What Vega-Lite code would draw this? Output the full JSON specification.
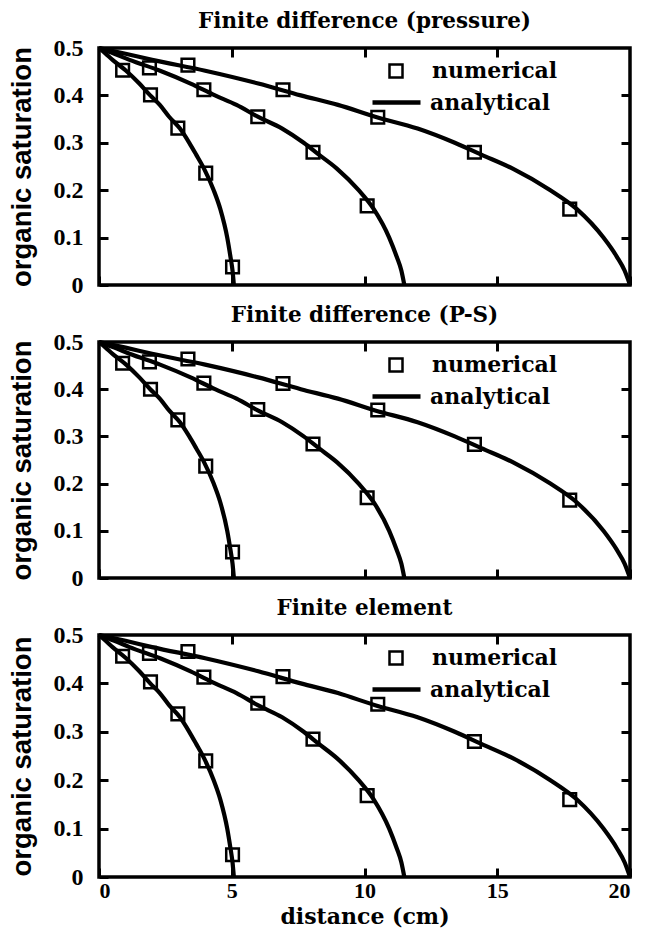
{
  "$schema": "https://vega.github.io/schema/vega-lite/v6.json",
  "background": "white",
  "padding": {"left": 6, "top": 8, "right": 2, "bottom": 0},
  "datasets": {
    "analytical": [
      {"curve": "c1", "distance": 0, "saturation": 0.5},
      {"curve": "c1", "distance": 0.25, "saturation": 0.488},
      {"curve": "c1", "distance": 0.51, "saturation": 0.475},
      {"curve": "c1", "distance": 1.02, "saturation": 0.452},
      {"curve": "c1", "distance": 1.52, "saturation": 0.425},
      {"curve": "c1", "distance": 1.93, "saturation": 0.4},
      {"curve": "c1", "distance": 2.29, "saturation": 0.38},
      {"curve": "c1", "distance": 2.64, "saturation": 0.355},
      {"curve": "c1", "distance": 3.05, "saturation": 0.33},
      {"curve": "c1", "distance": 3.4, "saturation": 0.3},
      {"curve": "c1", "distance": 3.66, "saturation": 0.275},
      {"curve": "c1", "distance": 3.96, "saturation": 0.245},
      {"curve": "c1", "distance": 4.32, "saturation": 0.2},
      {"curve": "c1", "distance": 4.57, "saturation": 0.16},
      {"curve": "c1", "distance": 4.83, "saturation": 0.1},
      {"curve": "c1", "distance": 4.95, "saturation": 0.06},
      {"curve": "c1", "distance": 5.03, "saturation": 0.03},
      {"curve": "c1", "distance": 5.08, "saturation": 0},
      {"curve": "c2", "distance": 0, "saturation": 0.5},
      {"curve": "c2", "distance": 0.58, "saturation": 0.488},
      {"curve": "c2", "distance": 1.15, "saturation": 0.475},
      {"curve": "c2", "distance": 2.3, "saturation": 0.452},
      {"curve": "c2", "distance": 3.45, "saturation": 0.425},
      {"curve": "c2", "distance": 4.37, "saturation": 0.4},
      {"curve": "c2", "distance": 5.18, "saturation": 0.38},
      {"curve": "c2", "distance": 5.98, "saturation": 0.355},
      {"curve": "c2", "distance": 6.9, "saturation": 0.33},
      {"curve": "c2", "distance": 7.71, "saturation": 0.3},
      {"curve": "c2", "distance": 8.28, "saturation": 0.275},
      {"curve": "c2", "distance": 8.97, "saturation": 0.245},
      {"curve": "c2", "distance": 9.78, "saturation": 0.2},
      {"curve": "c2", "distance": 10.35, "saturation": 0.16},
      {"curve": "c2", "distance": 10.93, "saturation": 0.1},
      {"curve": "c2", "distance": 11.21, "saturation": 0.06},
      {"curve": "c2", "distance": 11.39, "saturation": 0.03},
      {"curve": "c2", "distance": 11.5, "saturation": 0},
      {"curve": "c3", "distance": 0, "saturation": 0.5},
      {"curve": "c3", "distance": 1, "saturation": 0.488},
      {"curve": "c3", "distance": 2, "saturation": 0.475},
      {"curve": "c3", "distance": 4, "saturation": 0.452},
      {"curve": "c3", "distance": 6, "saturation": 0.425},
      {"curve": "c3", "distance": 7.6, "saturation": 0.4},
      {"curve": "c3", "distance": 9, "saturation": 0.38},
      {"curve": "c3", "distance": 10.4, "saturation": 0.355},
      {"curve": "c3", "distance": 12, "saturation": 0.33},
      {"curve": "c3", "distance": 13.4, "saturation": 0.3},
      {"curve": "c3", "distance": 14.4, "saturation": 0.275},
      {"curve": "c3", "distance": 15.6, "saturation": 0.245},
      {"curve": "c3", "distance": 17, "saturation": 0.2},
      {"curve": "c3", "distance": 18, "saturation": 0.16},
      {"curve": "c3", "distance": 19, "saturation": 0.1},
      {"curve": "c3", "distance": 19.5, "saturation": 0.06},
      {"curve": "c3", "distance": 19.8, "saturation": 0.03},
      {"curve": "c3", "distance": 20, "saturation": 0}
    ],
    "numerical": [
      {"panel": "p1", "curve": "c1", "distance": 0.89, "saturation": 0.453},
      {"panel": "p1", "curve": "c1", "distance": 1.94, "saturation": 0.401},
      {"panel": "p1", "curve": "c1", "distance": 2.97, "saturation": 0.331},
      {"panel": "p1", "curve": "c1", "distance": 4.02, "saturation": 0.236},
      {"panel": "p1", "curve": "c1", "distance": 5.03, "saturation": 0.038},
      {"panel": "p1", "curve": "c2", "distance": 1.9, "saturation": 0.458},
      {"panel": "p1", "curve": "c2", "distance": 3.95, "saturation": 0.412},
      {"panel": "p1", "curve": "c2", "distance": 5.98, "saturation": 0.355},
      {"panel": "p1", "curve": "c2", "distance": 8.06, "saturation": 0.28},
      {"panel": "p1", "curve": "c2", "distance": 10.1, "saturation": 0.167},
      {"panel": "p1", "curve": "c3", "distance": 3.35, "saturation": 0.464},
      {"panel": "p1", "curve": "c3", "distance": 6.93, "saturation": 0.412},
      {"panel": "p1", "curve": "c3", "distance": 10.5, "saturation": 0.354},
      {"panel": "p1", "curve": "c3", "distance": 14.14, "saturation": 0.28},
      {"panel": "p1", "curve": "c3", "distance": 17.73, "saturation": 0.16},
      {"panel": "p2", "curve": "c1", "distance": 0.89, "saturation": 0.455},
      {"panel": "p2", "curve": "c1", "distance": 1.94, "saturation": 0.4},
      {"panel": "p2", "curve": "c1", "distance": 2.97, "saturation": 0.335},
      {"panel": "p2", "curve": "c1", "distance": 4.02, "saturation": 0.237},
      {"panel": "p2", "curve": "c1", "distance": 5.03, "saturation": 0.055},
      {"panel": "p2", "curve": "c2", "distance": 1.9, "saturation": 0.458},
      {"panel": "p2", "curve": "c2", "distance": 3.95, "saturation": 0.413},
      {"panel": "p2", "curve": "c2", "distance": 5.98, "saturation": 0.357},
      {"panel": "p2", "curve": "c2", "distance": 8.06, "saturation": 0.284},
      {"panel": "p2", "curve": "c2", "distance": 10.1, "saturation": 0.17},
      {"panel": "p2", "curve": "c3", "distance": 3.35, "saturation": 0.464},
      {"panel": "p2", "curve": "c3", "distance": 6.93, "saturation": 0.412},
      {"panel": "p2", "curve": "c3", "distance": 10.5, "saturation": 0.356},
      {"panel": "p2", "curve": "c3", "distance": 14.14, "saturation": 0.283},
      {"panel": "p2", "curve": "c3", "distance": 17.73, "saturation": 0.165},
      {"panel": "p3", "curve": "c1", "distance": 0.89, "saturation": 0.456},
      {"panel": "p3", "curve": "c1", "distance": 1.94, "saturation": 0.403},
      {"panel": "p3", "curve": "c1", "distance": 2.97, "saturation": 0.337},
      {"panel": "p3", "curve": "c1", "distance": 4.02, "saturation": 0.24},
      {"panel": "p3", "curve": "c1", "distance": 5.03, "saturation": 0.046},
      {"panel": "p3", "curve": "c2", "distance": 1.9, "saturation": 0.462},
      {"panel": "p3", "curve": "c2", "distance": 3.95, "saturation": 0.413},
      {"panel": "p3", "curve": "c2", "distance": 5.98, "saturation": 0.359},
      {"panel": "p3", "curve": "c2", "distance": 8.06, "saturation": 0.285},
      {"panel": "p3", "curve": "c2", "distance": 10.1, "saturation": 0.168},
      {"panel": "p3", "curve": "c3", "distance": 3.35, "saturation": 0.466},
      {"panel": "p3", "curve": "c3", "distance": 6.93, "saturation": 0.414},
      {"panel": "p3", "curve": "c3", "distance": 10.5, "saturation": 0.357},
      {"panel": "p3", "curve": "c3", "distance": 14.14, "saturation": 0.28},
      {"panel": "p3", "curve": "c3", "distance": 17.73, "saturation": 0.16}
    ]
  },
  "spacing": 3,
  "resolve": {
    "legend": {"shape": "independent", "color": "independent"},
    "scale": {"shape": "independent", "color": "independent"}
  },
  "vconcat": [
    {
      "title": "Finite difference (pressure)",
      "width": 531,
      "height": 237,
      "resolve": {"axis": {"x": "independent", "y": "independent"}},
      "layer": [
        {
          "data": {"name": "analytical"},
          "mark": {"type": "line", "strokeWidth": 4.2, "interpolate": "monotone"},
          "encoding": {
            "x": {"field": "distance", "type": "quantitative", "scale": {"domain": [0, 20], "nice": false}, "axis": {"orient": "bottom", "values": [0, 5, 10, 15, 20], "labels": false, "title": null}},
            "y": {"field": "saturation", "type": "quantitative", "scale": {"domain": [0, 0.5], "nice": false}, "axis": {"orient": "left", "values": [0, 0.1, 0.2, 0.3, 0.4, 0.5], "format": "~g", "title": "organic saturation"}},
            "detail": {"field": "curve"},
            "color": {"datum": "analytical", "type": "nominal", "scale": {"domain": ["analytical"], "range": ["black"]},
              "legend": {"title": null, "orient": "none", "legendX": 271, "legendY": 28, "padding": 0, "symbolType": "stroke", "symbolSize": 2304, "symbolStrokeWidth": 4.5, "symbolStrokeColor": "black", "labelOffset": 7}}
          }
        },
        {
          "data": {"name": "numerical"},
          "transform": [{"filter": "datum.panel === 'p1'"}],
          "mark": {"type": "point", "filled": false, "color": "black", "strokeWidth": 2.5, "size": 160, "opacity": 1},
          "encoding": {
            "x": {"field": "distance", "type": "quantitative", "axis": {"orient": "top", "values": [5, 10, 15], "labels": false, "title": null}},
            "y": {"field": "saturation", "type": "quantitative", "axis": {"orient": "right", "values": [0.1, 0.2, 0.3, 0.4], "labels": false, "title": null}},
            "shape": {"datum": "numerical", "type": "nominal", "scale": {"domain": ["numerical"], "range": ["square"]},
              "legend": {"title": null, "orient": "none", "legendX": 286, "legendY": 12, "padding": 0, "symbolSize": 169, "symbolStrokeColor": "black", "symbolFillColor": "transparent", "symbolStrokeWidth": 2.5, "labelOffset": 25}}
          }
        }
      ]
    },
    {
      "title": "Finite difference (P-S)",
      "width": 531,
      "height": 236,
      "resolve": {"axis": {"x": "independent", "y": "independent"}},
      "layer": [
        {
          "data": {"name": "analytical"},
          "mark": {"type": "line", "strokeWidth": 4.2, "interpolate": "monotone"},
          "encoding": {
            "x": {"field": "distance", "type": "quantitative", "scale": {"domain": [0, 20], "nice": false}, "axis": {"orient": "bottom", "values": [0, 5, 10, 15, 20], "labels": false, "title": null}},
            "y": {"field": "saturation", "type": "quantitative", "scale": {"domain": [0, 0.5], "nice": false}, "axis": {"orient": "left", "values": [0, 0.1, 0.2, 0.3, 0.4, 0.5], "format": "~g", "title": "organic saturation"}},
            "detail": {"field": "curve"},
            "color": {"datum": "analytical", "type": "nominal", "scale": {"domain": ["analytical"], "range": ["black"]},
              "legend": {"title": null, "orient": "none", "legendX": 271, "legendY": 28, "padding": 0, "symbolType": "stroke", "symbolSize": 2304, "symbolStrokeWidth": 4.5, "symbolStrokeColor": "black", "labelOffset": 7}}
          }
        },
        {
          "data": {"name": "numerical"},
          "transform": [{"filter": "datum.panel === 'p2'"}],
          "mark": {"type": "point", "filled": false, "color": "black", "strokeWidth": 2.5, "size": 160, "opacity": 1},
          "encoding": {
            "x": {"field": "distance", "type": "quantitative", "axis": {"orient": "top", "values": [5, 10, 15], "labels": false, "title": null}},
            "y": {"field": "saturation", "type": "quantitative", "axis": {"orient": "right", "values": [0.1, 0.2, 0.3, 0.4], "labels": false, "title": null}},
            "shape": {"datum": "numerical", "type": "nominal", "scale": {"domain": ["numerical"], "range": ["square"]},
              "legend": {"title": null, "orient": "none", "legendX": 286, "legendY": 12, "padding": 0, "symbolSize": 169, "symbolStrokeColor": "black", "symbolFillColor": "transparent", "symbolStrokeWidth": 2.5, "labelOffset": 25}}
          }
        }
      ]
    },
    {
      "title": "Finite element",
      "width": 531,
      "height": 242,
      "resolve": {"axis": {"x": "independent", "y": "independent"}},
      "layer": [
        {
          "data": {"name": "analytical"},
          "mark": {"type": "line", "strokeWidth": 4.2, "interpolate": "monotone"},
          "encoding": {
            "x": {"field": "distance", "type": "quantitative", "scale": {"domain": [0, 20], "nice": false}, "axis": {"orient": "bottom", "values": [0, 5, 10, 15, 20], "format": "~g", "title": "distance (cm)", "labelFontSize": 22}},
            "y": {"field": "saturation", "type": "quantitative", "scale": {"domain": [0, 0.5], "nice": false}, "axis": {"orient": "left", "values": [0, 0.1, 0.2, 0.3, 0.4, 0.5], "format": "~g", "title": "organic saturation"}},
            "detail": {"field": "curve"},
            "color": {"datum": "analytical", "type": "nominal", "scale": {"domain": ["analytical"], "range": ["black"]},
              "legend": {"title": null, "orient": "none", "legendX": 271, "legendY": 28, "padding": 0, "symbolType": "stroke", "symbolSize": 2304, "symbolStrokeWidth": 4.5, "symbolStrokeColor": "black", "labelOffset": 7}}
          }
        },
        {
          "data": {"name": "numerical"},
          "transform": [{"filter": "datum.panel === 'p3'"}],
          "mark": {"type": "point", "filled": false, "color": "black", "strokeWidth": 2.5, "size": 160, "opacity": 1},
          "encoding": {
            "x": {"field": "distance", "type": "quantitative", "axis": {"orient": "top", "values": [5, 10, 15], "labels": false, "title": null}},
            "y": {"field": "saturation", "type": "quantitative", "axis": {"orient": "right", "values": [0.1, 0.2, 0.3, 0.4], "labels": false, "title": null}},
            "shape": {"datum": "numerical", "type": "nominal", "scale": {"domain": ["numerical"], "range": ["square"]},
              "legend": {"title": null, "orient": "none", "legendX": 286, "legendY": 12, "padding": 0, "symbolSize": 169, "symbolStrokeColor": "black", "symbolFillColor": "transparent", "symbolStrokeWidth": 2.5, "labelOffset": 25}}
          }
        }
      ]
    }
  ],
  "config": {
    "view": {"stroke": "black", "strokeWidth": 3.5},
    "axis": {
      "domain": false, "grid": false, "ticks": true, "tickColor": "black", "tickWidth": 3, "tickSize": -9,
      "labelFont": "Liberation Serif", "labelFontWeight": "bold", "labelFontSize": 24, "labelColor": "black", "labelPadding": 25,
      "titleColor": "black"
    },
    "axisLeft": {"titleFont": "Liberation Sans", "titleFontWeight": "bold", "titleFontSize": 27.5, "titlePadding": 17},
    "axisBottom": {"titleFont": "DejaVu Serif", "titleFontWeight": "bold", "titleFontSize": 22, "titlePadding": 5, "labelPadding": 12},
    "legend": {"labelFont": "DejaVu Serif", "labelFontWeight": "bold", "labelFontSize": 22, "labelColor": "black"},
    "title": {"font": "DejaVu Serif", "fontWeight": "bold", "fontSize": 21.5, "offset": 4, "color": "black", "anchor": "middle"}
  }
}
